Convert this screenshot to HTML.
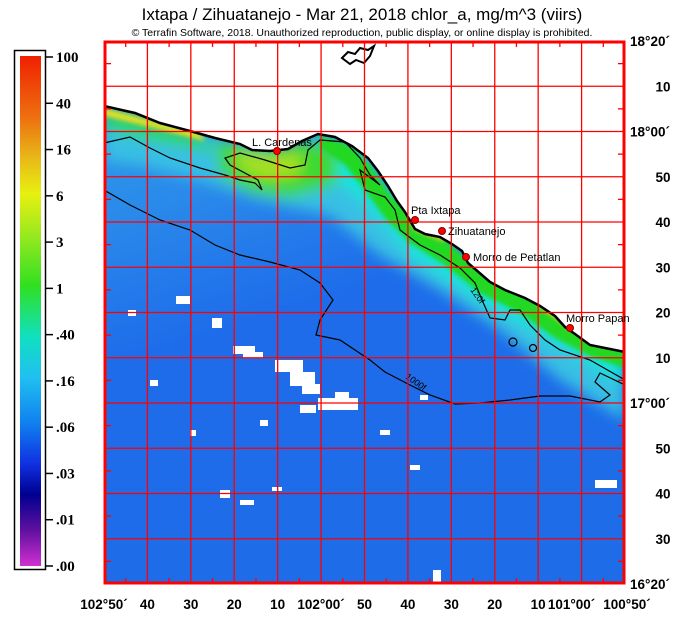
<!DOCTYPE html>
<html><head><meta charset="utf-8"><style>
html,body{margin:0;padding:0;background:#fff;}
svg{display:block;}
.t{font-family:"Liberation Sans",sans-serif;}
</style></head><body>
<svg id="chart" width="690" height="626" viewBox="0 0 690 626" xmlns="http://www.w3.org/2000/svg">
<defs>
<linearGradient id="cbar" x1="0" y1="0" x2="0" y2="1">
<stop offset="0" stop-color="#f02000"/>
<stop offset="0.12" stop-color="#ee7010"/>
<stop offset="0.2" stop-color="#e8b818"/>
<stop offset="0.27" stop-color="#e8f010"/>
<stop offset="0.36" stop-color="#90e820"/>
<stop offset="0.45" stop-color="#30e020"/>
<stop offset="0.55" stop-color="#10e0c0"/>
<stop offset="0.63" stop-color="#20c0f0"/>
<stop offset="0.72" stop-color="#1080f0"/>
<stop offset="0.8" stop-color="#1030e0"/>
<stop offset="0.86" stop-color="#000090"/>
<stop offset="0.93" stop-color="#6010a0"/>
<stop offset="1" stop-color="#d030d0"/>
</linearGradient>
<linearGradient id="sea" x1="0" y1="0" x2="0.3" y2="1">
<stop offset="0" stop-color="#30a8e8"/>
<stop offset="0.3" stop-color="#2a8aea"/>
<stop offset="0.55" stop-color="#1e6cea"/>
<stop offset="1" stop-color="#1e6ce8"/>
</linearGradient>
<filter id="blur" x="-20%" y="-20%" width="140%" height="140%"><feGaussianBlur stdDeviation="7"/></filter>
<filter id="blur2"><feGaussianBlur stdDeviation="2"/></filter>
<clipPath id="mapclip"><rect x="104" y="41" width="521" height="543"/></clipPath>
</defs>

<text class="t" x="362" y="20" font-size="17" text-anchor="middle">Ixtapa / Zihuatanejo - Mar 21, 2018  chlor_a, mg/m^3 (viirs)</text>
<text class="t" x="362" y="36" font-size="10.5" text-anchor="middle">© Terrafin Software,  2018.  Unauthorized reproduction, public display, or online display is prohibited.</text>

<g>
<rect x="14.5" y="50.5" width="31" height="519" fill="#fff" stroke="#000" stroke-width="1.5"/>
<rect x="20" y="56" width="21" height="510" fill="url(#cbar)"/>
<g id="cbticks"></g>
</g>

<g clip-path="url(#mapclip)">
<rect x="104" y="41" width="521" height="543" fill="url(#sea)"/>
<g filter="url(#blur)">
<polygon fill="#38c0e4" points="104,110 200,135 280,150 320,135 360,150 410,215 470,262 540,300 625,352 625,420 560,380 500,330 440,290 380,255 330,215 260,200 200,180 140,165 104,160"/>
<polygon fill="#18e4d8" points="330,150 360,160 400,215 450,250 520,290 625,355 625,385 540,335 470,295 410,255 380,220 350,190 320,170"/>
<polygon fill="#40d830" points="215,140 270,150 310,140 340,150 335,185 290,198 250,192 220,175"/>
<polygon fill="#a8e020" points="235,152 275,157 300,152 300,175 265,180 240,168"/>
<polygon fill="#30d850" points="104,110 200,135 215,152 150,140 104,128"/>
</g>
<g filter="url(#blur2)">
<polygon fill="#20d820" points="320,136 350,145 370,165 390,195 410,215 440,235 465,258 500,278 540,298 570,320 600,340 625,352 625,368 590,356 555,338 520,313 480,293 445,265 410,243 385,218 365,190 345,165 320,148"/>
<polygon fill="#e0e020" points="104,108 200,133 205,141 150,127 104,116"/>
<polygon fill="#e8c020" points="410,215 440,233 445,241 415,229"/>
<polygon fill="#e8c020" points="540,300 570,320 600,340 600,345 570,328 540,306"/>
</g>
<g fill="#fff">
<rect x="176" y="296" width="14" height="8"/><rect x="212" y="318" width="10" height="10"/>
<rect x="233" y="346" width="22" height="8"/><rect x="243" y="352" width="20" height="6"/>
<rect x="275" y="360" width="28" height="12"/><rect x="290" y="372" width="25" height="14"/>
<rect x="302" y="384" width="18" height="10"/><rect x="318" y="398" width="40" height="12"/>
<rect x="300" y="405" width="16" height="8"/><rect x="335" y="392" width="14" height="7"/>
<rect x="150" y="380" width="8" height="6"/><rect x="128" y="310" width="8" height="6"/>
<rect x="190" y="430" width="6" height="6"/><rect x="260" y="420" width="8" height="6"/>
<rect x="220" y="490" width="10" height="8"/><rect x="240" y="500" width="14" height="5"/>
<rect x="272" y="487" width="10" height="4"/><rect x="410" y="465" width="10" height="5"/>
<rect x="595" y="480" width="22" height="8"/><rect x="433" y="570" width="8" height="14"/>
<rect x="420" y="395" width="8" height="5"/><rect x="380" y="430" width="10" height="5"/>
</g>
<polygon fill="#fff" points="100,38 630,38 630,351 620,350 605,347 590,344 575,333 565,326 555,315 540,305 525,297 505,289 490,281 475,268 468,262 462,250 452,243 440,236 425,233 415,228 405,211 397,200 388,185 378,170 368,157 352,145 335,136 318,133 302,140 288,148 270,150 252,149 240,143 215,137 190,130 160,122 135,112 104,105 100,105"/>
<polyline fill="none" stroke="#000" stroke-width="2.5" points="104,106 135,113 160,123 190,131 215,138 240,144 252,150 270,151 288,149 302,141 318,134 335,137 352,146 368,158 378,171 388,186 397,201 405,212 415,229 425,234 440,237 452,244 462,251 468,263 475,269 490,282 505,290 525,298 540,306 555,316 565,327 575,334 590,345 605,348 625,352"/>
<g fill="none" stroke="#000" stroke-width="1.2">
<polyline points="104,143 130,137 150,148 170,158 200,168 225,175 240,180 255,183 262,190 258,180 230,165 225,158 240,153 265,160 290,168 305,165 308,150 320,140 345,142 360,158 370,175 380,185 360,170 365,190 385,197 395,210 400,230 420,245 440,255 460,268 475,283 482,300 490,318 505,320 510,310 520,310 530,325 545,340 560,350 590,360 625,380"/>
<polyline points="104,190 130,205 160,220 190,230 215,245 240,255 270,262 300,270 320,283 333,300 320,320 316,335 340,340 370,360 385,372 410,385 430,395 455,404 480,403 510,400 540,396 570,396 600,402 610,395 595,382 600,373 625,385"/>
<ellipse cx="513" cy="342" rx="4" ry="4"/>
<ellipse cx="533" cy="348" rx="3.5" ry="3.5"/>
</g>
<text class="t" x="470" y="290" font-size="9" transform="rotate(55 470 290)">120f</text>
<text class="t" x="405" y="378" font-size="9" transform="rotate(35 405 378)">1000f</text>
<path d="M342,58 L348,52 L355,54 L360,48 L368,50 L374,46 L370,56 L364,63 L356,60 L350,64 Z" fill="#fff" stroke="#000" stroke-width="2"/>
<g id="grid"></g>
</g>
<rect x="105" y="42" width="519" height="541" fill="none" stroke="#f00" stroke-width="3"/>
<g id="ticks"></g>

<g class="t" font-size="11">
<circle cx="277" cy="151" r="3.5" fill="#f00" stroke="#800"/>
<text x="252" y="146">L. Cardenas</text>
<circle cx="415" cy="220" r="3.5" fill="#f00" stroke="#800"/>
<text x="411" y="214">Pta Ixtapa</text>
<circle cx="442" cy="231" r="3.5" fill="#f00" stroke="#800"/>
<text x="448" y="235">Zihuatanejo</text>
<circle cx="466" cy="257" r="3.5" fill="#f00" stroke="#800"/>
<text x="473" y="261">Morro de Petatlan</text>
<circle cx="570" cy="328" r="3.5" fill="#f00" stroke="#800"/>
<text x="566" y="322">Morro Papan</text>
</g>
</svg>
<script>
const cbLabels = ["100","40","16","6","3","1",".40",".16",".06",".03",".01",".00"];
const latLabels = ["18°20´","10","18°00´","50","40","30","20","10","17°00´","50","40","30","16°20´"];
const lonLabels = ["102°50´","40","30","20","10","102°00´","50","40","30","20","10","101°00´","100°50´"];
const NS = "http://www.w3.org/2000/svg";
function mk(tag, attrs, parent){const e=document.createElementNS(NS,tag);for(const k in attrs)e.setAttribute(k,attrs[k]);parent.appendChild(e);return e;}
const X0=104,X1=625,Y0=41,Y1=584;
const xs=i=>X0+(X1-X0)*i/(lonLabels.length-1);
const ys=i=>Y0+(Y1-Y0)*i/(latLabels.length-1);
const cbY=i=>57+(566-57)*i/(cbLabels.length-1);
const cbt=document.getElementById('cbticks');
cbLabels.forEach((l,i)=>{
  const ln=mk('line',{x1:46,x2:53,y1:cbY(i),y2:cbY(i),stroke:'#000','stroke-width':1.5},cbt);
  
  
  const t=mk('text',{x:56,y:cbY(i)+5,'font-size':15,'font-weight':'bold','font-family':'"Liberation Serif",serif'},cbt);
  t.textContent=l;
  
  
});
const g=document.getElementById('grid');
for(let i=1;i<lonLabels.length-1;i++){
  const ln=mk('line',{x1:xs(i),x2:xs(i),y1:Y0,y2:Y1,stroke:'#f00','stroke-width':1.3},g);
  
  
}
for(let i=1;i<latLabels.length-1;i++){
  const ln=mk('line',{x1:X0,x2:X1,y1:ys(i),y2:ys(i),stroke:'#f00','stroke-width':1.3},g);
  
  
}
const tk=document.getElementById('ticks');
for(let i=0;i<lonLabels.length-1;i++){
  const xm=(xs(i)+xs(i+1))/2;
  mk('line',{x1:xm,x2:xm,y1:Y0,y2:Y0+6,stroke:'#f00','stroke-width':1.3},tk);
  mk('line',{x1:xm,x2:xm,y1:Y1,y2:Y1-6,stroke:'#f00','stroke-width':1.3},tk);
}
for(let i=0;i<latLabels.length-1;i++){
  const ym=(ys(i)+ys(i+1))/2;
  mk('line',{x1:X0,x2:X0+7,y1:ym,y2:ym,stroke:'#f00','stroke-width':1.3},tk);
  mk('line',{x1:X1,x2:X1-7,y1:ym,y2:ym,stroke:'#f00','stroke-width':1.3},tk);
}
latLabels.forEach((l,i)=>{
  const t=mk('text',{x:l.length>3?650:663,y:ys(i)+5,'font-size':13.5,'font-weight':'bold','text-anchor':'middle','font-family':'"Liberation Sans",sans-serif'},tk);
  t.textContent=l;
  
  
});
lonLabels.forEach((l,i)=>{
  let x=xs(i);
  if(i===lonLabels.length-2)x-=10;
  if(i===lonLabels.length-1)x+=2;
  const t=mk('text',{x:x,y:609,'font-size':13.5,'font-weight':'bold','text-anchor':'middle','font-family':'"Liberation Sans",sans-serif'},tk);
  t.textContent=l;
  
  
});
</script>
</body></html>
